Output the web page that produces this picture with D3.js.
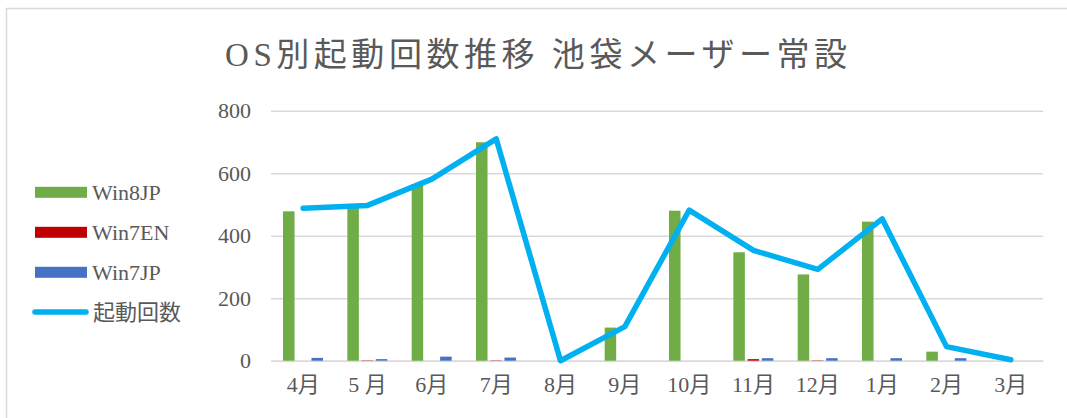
<!DOCTYPE html>
<html>
<head>
<meta charset="utf-8">
<title>OS別起動回数推移</title>
<script src="https://d3js.org/d3.v7.min.js"></script>
<style>
  body { margin: 0; background: #fff; }
  text { fill: #595959; }
</style>
</head>
<body>
<div id="chart"></div>
<script>
// データ
const months   = ["4月", "5 月", "6月", "7月", "8月", "9月", "10月", "11月", "12月", "1月", "2月", "3月"];
const win8jp   = [478, 490, 565, 699, 0, 106, 480, 347, 276, 445, 29, 0];
const win7en   = [0, 1, 0, 1, 0, 0, 0, 5, 1, 0, 0, 0];
const win7jp   = [9, 5, 13, 10, 0, 0, 0, 8, 8, 8, 8, 0];
const launches = [488, 497, 581, 710, 0, 109, 482, 353, 292, 454, 45, 3];
const yTicks   = [0, 200, 400, 600, 800];
const seriesNames = ["Win8JP", "Win7EN", "Win7JP"];
const lineName = "起動回数";
const title = "OS別起動回数推移 池袋メーザー常設";

const colors = {Win8JP: "#70AD47", Win7EN: "#C00000", Win7JP: "#4472C4"};
const lineColor = "#00B0F0";
const latin = "'Liberation Serif', 'Noto Sans CJK JP', serif";

const W = 1067, H = 418;
const margin = {top: 110.7, right: 24, bottom: 57.3, left: 271};
const w = W - margin.left - margin.right;
const h = H - margin.top - margin.bottom;

const svg = d3.select("#chart").append("svg")
    .attr("width", W)
    .attr("height", H);

// 外枠
svg.append("rect")
    .attr("x", 6.5).attr("y", 8.5)
    .attr("width", 1080).attr("height", 430)
    .attr("fill", "none")
    .attr("stroke", "#D9D9D9")
    .attr("stroke-width", 1.5);

svg.append("text")
    .attr("x", 536).attr("y", 66)
    .attr("text-anchor", "middle")
    .attr("font-family", latin)
    .attr("font-size", 33)
    .attr("textLength", 622)
    .attr("lengthAdjust", "spacing")
    .text(title);

const g = svg.append("g")
    .attr("transform", "translate(" + margin.left + "," + margin.top + ")");

const x0 = d3.scaleBand().domain(months).range([0, w]).padding(0);
const x1 = d3.scaleBand().domain(seriesNames).range([12, 52]).paddingInner(0.19).paddingOuter(0);
const y = d3.scaleLinear().domain([0, 800]).range([h, 0]);

// 目盛線
const yAxis = d3.axisLeft(y).tickValues(yTicks).tickSize(-w).tickPadding(20);
const ya = g.append("g").call(yAxis);
ya.select(".domain").remove();
ya.selectAll(".tick line").attr("stroke", "#D9D9D9").attr("stroke-width", 1.5);
ya.selectAll(".tick text")
    .attr("font-family", latin)
    .attr("font-size", 22)
    .attr("fill", "#595959");

const xAxis = d3.axisBottom(x0).tickSize(0).tickPadding(16);
const xa = g.append("g").attr("transform", "translate(0," + h + ")").call(xAxis);
xa.select(".domain").attr("stroke", "#D9D9D9").attr("stroke-width", 1.5);
xa.selectAll(".tick text")
    .attr("font-family", latin)
    .attr("font-size", 22)
    .attr("fill", "#595959");

// 棒
const table = months.map((m, i) => ({
    month: m,
    values: [
        {key: "Win8JP", v: win8jp[i]},
        {key: "Win7EN", v: win7en[i]},
        {key: "Win7JP", v: win7jp[i]}
    ]
}));

g.selectAll(".grp")
    .data(table)
    .enter().append("g")
    .attr("transform", d => "translate(" + x0(d.month) + ",0)")
    .selectAll("rect")
    .data(d => d.values)
    .enter().append("rect")
    .attr("x", d => x1(d.key))
    .attr("width", x1.bandwidth())
    .attr("y", d => y(d.v))
    .attr("height", d => h - y(d.v))
    .attr("fill", d => colors[d.key]);

// 折れ線
const line = d3.line()
    .x((d, i) => x0(months[i]) + x0.bandwidth() / 2)
    .y(d => y(d));

g.append("path")
    .datum(launches)
    .attr("d", line)
    .attr("fill", "none")
    .attr("stroke", lineColor)
    .attr("stroke-width", 5.5)
    .attr("stroke-linejoin", "round")
    .attr("stroke-linecap", "round");

// 凡例
const legend = svg.append("g");
seriesNames.forEach((s, i) => {
    const cy = 192.3 + i * 40;
    legend.append("rect")
        .attr("x", 35).attr("y", cy - 5.5)
        .attr("width", 52).attr("height", 11)
        .attr("fill", colors[s]);
    legend.append("text")
        .attr("x", 92).attr("y", cy + 8)
        .attr("font-family", latin)
        .attr("font-size", 22)
        .text(s);
});
legend.append("line")
    .attr("x1", 35).attr("x2", 86)
    .attr("y1", 312).attr("y2", 312)
    .attr("stroke", lineColor)
    .attr("stroke-width", 5.5)
    .attr("stroke-linecap", "round");
legend.append("text")
    .attr("x", 93).attr("y", 320)
    .attr("font-family", latin)
    .attr("font-size", 22)
    .text(lineName);
</script>
</body>
</html>
